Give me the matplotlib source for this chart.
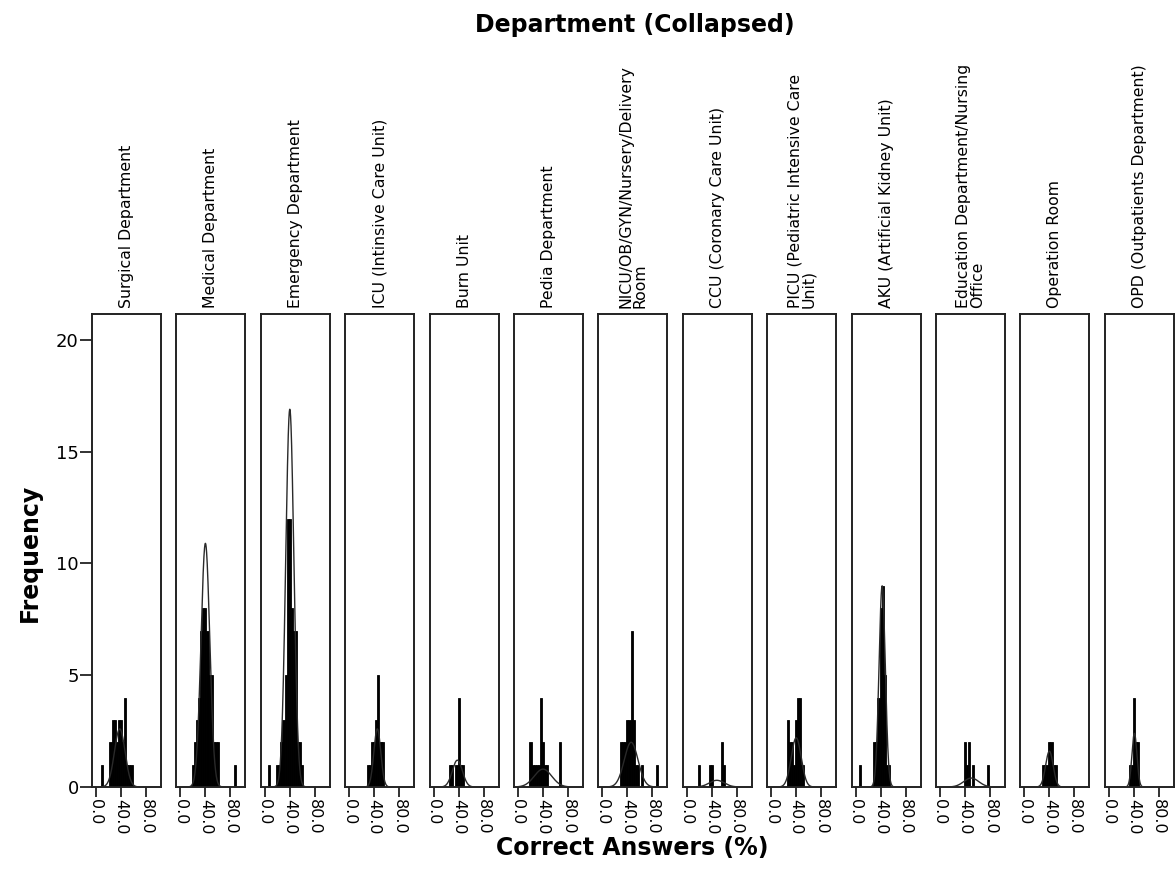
import matplotlib
matplotlib.use("Agg")
import matplotlib.pyplot as plt
import numpy as np

# Panel titles (department, collapsed)
departments = [
    "Surgical Department",
    "Medical Department",
    "Emergency Department",
    "ICU (Intinsive Care Unit)",
    "Burn Unit",
    "Pedia Department",
    "NICU/OB/GYN/Nursery/Delivery\nRoom",
    "CCU (Coronary Care Unit)",
    "PICU (Pediatric Intensive Care\nUnit)",
    "AKU (Artificial Kidney Unit)",
    "Education Department/Nursing\nOffice",
    "Operation Room",
    "OPD (Outpatients Department)",
]

# Correct answers (%) and frequency per department
surgical_pct = [10.0, 23.3, 26.7, 30.0, 33.3, 36.7, 40.0, 43.3, 46.7, 50.0, 53.3, 56.7]
surgical_n = [1, 2, 3, 3, 2, 3, 3, 2, 4, 1, 1, 1]

medical_pct = [20.0, 23.3, 26.7, 30.0, 33.3, 36.7, 40.0, 43.3, 46.7, 50.0, 53.3, 56.7, 60.0, 86.7]
medical_n = [1, 2, 3, 4, 7, 8, 8, 7, 5, 5, 2, 2, 2, 1]

emergency_pct = [6.7, 20.0, 23.3, 26.7, 30.0, 33.3, 36.7, 40.0, 43.3, 46.7, 50.0, 53.3, 56.7, 60.0]
emergency_n = [1, 1, 1, 2, 3, 5, 12, 12, 8, 7, 7, 2, 2, 1]

icu_pct = [30.0, 33.3, 36.7, 40.0, 43.3, 46.7, 50.0, 53.3]
icu_n = [1, 1, 2, 2, 3, 5, 2, 2]

burn_pct = [26.7, 30.0, 36.7, 40.0, 43.3, 46.7]
burn_n = [1, 1, 1, 4, 1, 1]

pedia_pct = [20.0, 23.3, 26.7, 30.0, 33.3, 36.7, 40.0, 43.3, 46.7, 66.7]
pedia_n = [2, 1, 1, 1, 1, 4, 2, 1, 1, 2]

nicu_pct = [30.0, 33.3, 36.7, 40.0, 43.3, 46.7, 50.0, 53.3, 56.7, 63.3, 86.7]
nicu_n = [2, 2, 2, 3, 3, 7, 3, 1, 1, 1, 1]

ccu_pct = [20.0, 36.7, 40.0, 56.7, 60.0]
ccu_n = [1, 1, 1, 2, 1]

picu_pct = [26.7, 30.0, 33.3, 36.7, 40.0, 43.3, 46.7, 50.0]
picu_n = [3, 2, 2, 1, 3, 4, 4, 1]

aku_pct = [6.7, 30.0, 33.3, 36.7, 40.0, 43.3, 46.7, 50.0, 53.3]
aku_n = [1, 2, 2, 4, 8, 9, 5, 1, 1]

education_pct = [40.0, 43.3, 46.7, 53.3, 76.7]
education_n = [2, 1, 2, 1, 1]

operation_pct = [30.0, 33.3, 36.7, 40.0, 43.3, 46.7, 50.0]
operation_n = [1, 1, 1, 2, 2, 1, 1]

opd_pct = [33.3, 36.7, 40.0, 43.3, 46.7]
opd_n = [1, 1, 4, 2, 2]

# Fitted normal curve per department: mean, standard deviation, peak height
curve_mean = [38.0, 40.0, 40.0, 45.0, 38.0, 40.0, 46.0, 48.0, 40.0, 42.5, 50.0, 40.0, 41.0]
curve_sd = [8.5, 7.0, 6.5, 5.5, 8.0, 14.0, 11.0, 12.0, 8.0, 5.0, 12.0, 6.0, 4.0]
curve_peak = [2.6, 10.9, 16.9, 2.6, 1.2, 0.8, 2.0, 0.3, 2.2, 9.0, 0.4, 1.6, 2.4]

scores = [surgical_pct, medical_pct, emergency_pct, icu_pct, burn_pct, pedia_pct,
          nicu_pct, ccu_pct, picu_pct, aku_pct, education_pct, operation_pct, opd_pct]
freqs = [surgical_n, medical_n, emergency_n, icu_n, burn_n, pedia_n,
         nicu_n, ccu_n, picu_n, aku_n, education_n, operation_n, opd_n]

x_ticks = [0, 40, 80]
x_tick_labels = ["0.0", "40.0", "80.0"]
y_ticks = [0, 5, 10, 15, 20]

W, H = 1175, 885
fig = plt.figure(figsize=(W / 100, H / 100), dpi=100)
fig.patch.set_facecolor("white")

XMIN, XMAX = -6.4, 104.0
YMAX = 21.16
BIN = 3.4
edge = "#222222"

panel_left, panel_step, panel_w = 92, 84.4, 69
panel_bottom, panel_h = 885 - 787, 473

xs = np.linspace(XMIN, XMAX, 800)

for i, title in enumerate(departments):
    left = panel_left + panel_step * i
    ax = fig.add_axes([left / W, panel_bottom / H, panel_w / W, panel_h / H])
    ax.bar(scores[i], freqs[i], width=BIN, color="black",
           edgecolor="black", linewidth=0.6, zorder=2)
    ys = curve_peak[i] * np.exp(-0.5 * ((xs - curve_mean[i]) / curve_sd[i]) ** 2)
    ax.plot(xs, ys, color="#2a2a2a", linewidth=1.0, zorder=3)

    ax.set_xlim(XMIN, XMAX)
    ax.set_ylim(0, YMAX)
    ax.set_xticks(x_ticks)
    ax.set_xticklabels(x_tick_labels, rotation=-90, fontsize=11.5)
    ax.tick_params(axis="x", direction="out", length=7, width=1.3,
                   color=edge, pad=1.5)
    if i == 0:
        ax.set_yticks(y_ticks)
        ax.set_yticklabels([str(v) for v in y_ticks], fontsize=13)
        ax.tick_params(axis="y", direction="out", length=8.5, width=1.3,
                       color=edge, pad=1)
    else:
        ax.set_yticks([])
    for sp in ax.spines.values():
        sp.set_linewidth(1.4)
        sp.set_color(edge)

    ax.text(0.5, 1.0 + 6 / panel_h, title, transform=ax.transAxes,
            rotation=90, ha="center", va="bottom", multialignment="left",
            fontsize=11.3, linespacing=0.95, color="black")

fig.text(635 / W, 1 - 25 / H, "Department (Collapsed)", ha="center",
         va="center", fontsize=17, fontweight="bold")
fig.text(30 / W, 1 - 553 / H, "Frequency", ha="center", va="center",
         rotation=90, fontsize=17, fontweight="bold")
fig.text(632 / W, 1 - 848 / H, "Correct Answers (%)", ha="center",
         va="center", fontsize=17, fontweight="bold")

fig.savefig("out.png", dpi=100, facecolor="white")
